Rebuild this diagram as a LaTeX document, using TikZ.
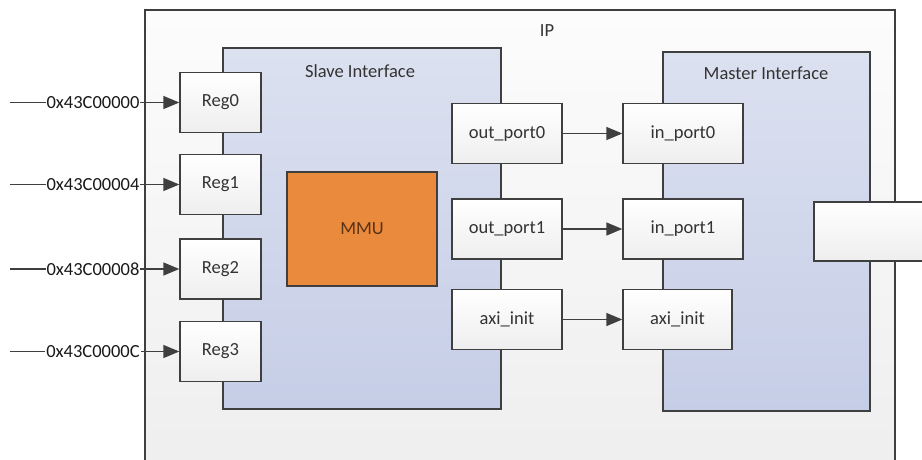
\documentclass[tikz,border=0pt]{standalone}
\usepackage{fontspec}
\setmainfont{Carlito}
\usetikzlibrary{arrows.meta}
\definecolor{edge}{HTML}{3F3F3F}
\definecolor{ink}{HTML}{333333}
\definecolor{iptop}{HTML}{FCFCFC}
\definecolor{ipbot}{HTML}{EEEEEE}
\definecolor{iftop}{HTML}{DCE1F0}
\definecolor{ifbot}{HTML}{C6CEE7}
\definecolor{mmu}{HTML}{EA8A3C}
\definecolor{mmutext}{HTML}{5A3214}
\tikzset{
  txt/.style={font=\fontsize{18.5}{20}\selectfont, text=ink},
  frame/.style={draw=edge, line width=1.4pt},
  regbox/.style={frame, txt, top color=white, bottom color=ipbot, minimum width=81pt, minimum height=60pt, inner sep=0pt},
  portbox/.style={frame, txt, top color=white, bottom color=ipbot, minimum height=60pt, inner sep=0pt},
  link/.style={draw=edge, line width=1.5pt, -{Triangle[length=16pt,width=13pt]}},
  addr/.style={txt, fill=white, inner sep=1pt, text=black!90}
}
\begin{document}
\begin{tikzpicture}[x=1pt,y=-1pt]
  \useasboundingbox (0,0) rectangle (922,459);
  \clip (0,0) rectangle (922,459);
  \fill[white] (0,0) rectangle (922,459);

  % outer IP block (runs past the lower edge)
  \path[frame, top color=iptop, bottom color=ipbot] (145,10) rectangle (895,480);
  \node[txt] (ip) at (547,31) {IP};

  % slave and master interfaces
  \path[frame, top color=iftop, bottom color=ifbot] (223,48) rectangle (501,409);
  \node[txt] (slave) at (360,71) {Slave Interface};
  \path[frame, top color=iftop, bottom color=ifbot] (663,52) rectangle (870,411);
  \node[txt] (master) at (766,73) {Master Interface};

  % register bank
  \node[regbox] (reg0) at (220.5,102.5) {Reg0};
  \node[regbox] (reg1) at (220.5,184.5) {Reg1};
  \node[regbox] (reg2) at (220.5,269) {Reg2};
  \node[regbox] (reg3) at (220.5,351.5) {Reg3};

  % MMU
  \node[frame, fill=mmu, minimum width=150pt, minimum height=114pt, inner sep=0pt,
        font=\fontsize{18.5}{20}\selectfont, text=mmutext] (mmu) at (362,229) {MMU};

  % slave-side ports
  \node[portbox, minimum width=110pt] (op0) at (507,133.5) {out\_port0};
  \node[portbox, minimum width=110pt] (op1) at (507,229) {out\_port1};
  \node[portbox, minimum width=110pt] (sai) at (507,319.5) {axi\_init};

  % master-side ports
  \node[portbox, minimum width=120pt] (ip0) at (683,133.5) {in\_port0};
  \node[portbox, minimum width=120pt] (ip1) at (683,229) {in\_port1};
  \node[portbox, minimum width=109pt] (mai) at (677.5,319.5) {axi\_init};

  % external port block on the right edge
  \node[frame, top color=white, bottom color=ipbot, minimum width=130pt, minimum height=59pt,
        inner sep=0pt] (ext) at (879,231.5) {};

  % address inputs
  \coordinate (a0) at (10,102.5);
  \coordinate (a1) at (10,184.5);
  \coordinate (a2) at (10,269);
  \coordinate (a3) at (10,351.5);
  \draw[link] (a0) -- node[addr, pos=0.49] {0x43C00000} (reg0.west);
  \draw[link] (a1) -- node[addr, pos=0.49] {0x43C00004} (reg1.west);
  \draw[link] (a2) -- node[addr, pos=0.49] {0x43C00008} (reg2.west);
  \draw[link] (a3) -- node[addr, pos=0.49] {0x43C0000C} (reg3.west);

  % port connections
  \draw[link] (op0) -- (ip0);
  \draw[link] (op1) -- (ip1);
  \draw[link] (sai) -- (mai);
\end{tikzpicture}
\end{document}
